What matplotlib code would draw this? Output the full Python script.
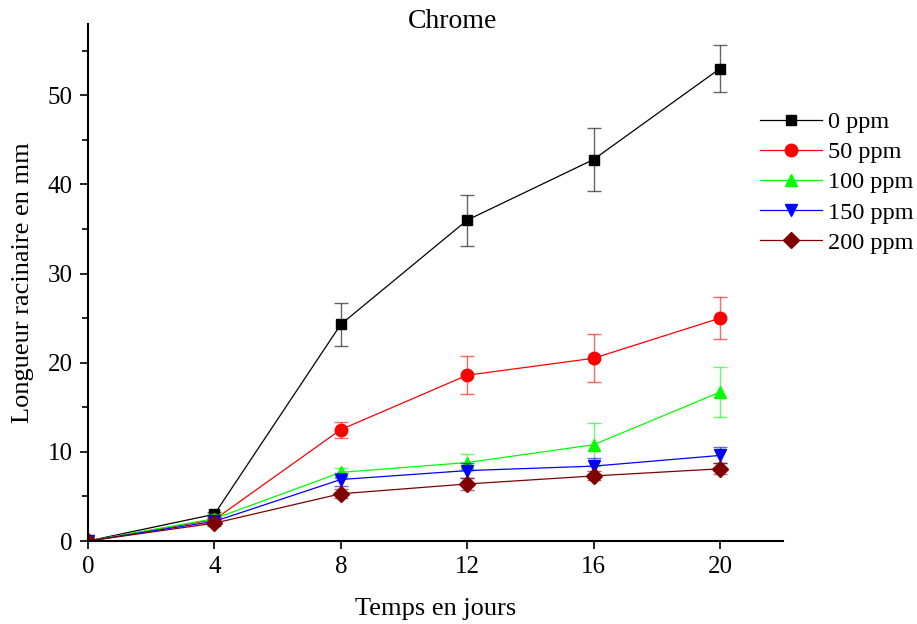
import matplotlib
matplotlib.use("Agg")
import matplotlib.pyplot as plt
from matplotlib.ticker import MultipleLocator

plt.rcParams['font.family'] = ['Liberation Serif', 'DejaVu Serif']

# -------- DATA --------
days = [0, 4, 8, 12, 16, 20]
labels = ['0 ppm', '50 ppm', '100 ppm', '150 ppm', '200 ppm']
y_0 = [0, 3.0, 24.3, 36.0, 42.8, 53.0]
y_50 = [0, 2.4, 12.5, 18.6, 20.5, 25.0]
y_100 = [0, 2.5, 7.7, 8.8, 10.8, 16.7]
y_150 = [0, 2.2, 6.9, 7.9, 8.4, 9.6]
y_200 = [0, 2.0, 5.3, 6.4, 7.3, 8.1]
err_0 = [0, 0.3, 2.4, 2.85, 3.5, 2.6]
err_50 = [0, 0.3, 0.9, 2.1, 2.7, 2.35]
err_100 = [0, 0.5, 0.5, 1.0, 2.4, 2.8]
err_150 = [0, 0.3, 0.7, 0.8, 0.9, 0.9]
err_200 = [0, 0.3, 0.5, 0.7, 0.5, 0.6]
# -------- DATA. --------

series = [y_0, y_50, y_100, y_150, y_200]
errors = [err_0, err_50, err_100, err_150, err_200]
colors = ['black', 'red', '#00ff00', 'blue', '#7f0000']
markers = ['s', 'o', '^', 'v', 'D']
msizes = [7, 9, 9, 9, 8]

fig = plt.figure(figsize=(9.17, 6.24), dpi=100)
ax = fig.add_axes([0.096, 0.133, 0.758, 0.8285])

handles = []
for y, e, c, m, ms in zip(series, errors, colors, markers, msizes):
    ax.errorbar(days, y, yerr=e, fmt='none', ecolor=c, elinewidth=1,
                capsize=5, capthick=1, alpha=0.6)
    ln, = ax.plot(days, y, color=c, marker=m, markersize=ms, linewidth=0.9)
    handles.append(ln)

ax.set_xlim(0, 22)
ax.set_ylim(0, 58)
ax.xaxis.set_major_locator(MultipleLocator(4))
ax.yaxis.set_major_locator(MultipleLocator(10))
ax.yaxis.set_minor_locator(MultipleLocator(5))
ax.tick_params(which='major', direction='out', length=6, width=1.2, labelsize=18, pad=5)
ax.tick_params(which='minor', direction='out', length=4, width=1.2)
ax.spines['top'].set_visible(False)
ax.spines['right'].set_visible(False)
ax.spines['left'].set_linewidth(1.5)
ax.spines['bottom'].set_linewidth(1.5)

ax.set_xlabel('Temps en jours', fontsize=19, labelpad=14)
ax.set_ylabel('Longueur racinaire en mm', fontsize=19, labelpad=10)
fig.text(0.494, 0.966, 'Chrome', ha='center', va='center', fontsize=20)

legend = ax.legend(handles=handles, labels=labels, loc='upper left',
                   bbox_to_anchor=(0.967, 0.831), frameon=False, fontsize=17.5,
                   handlelength=2.55, handletextpad=0.25, labelspacing=0.33,
                   borderpad=0, borderaxespad=0)

plt.savefig('out.png', dpi=100)
